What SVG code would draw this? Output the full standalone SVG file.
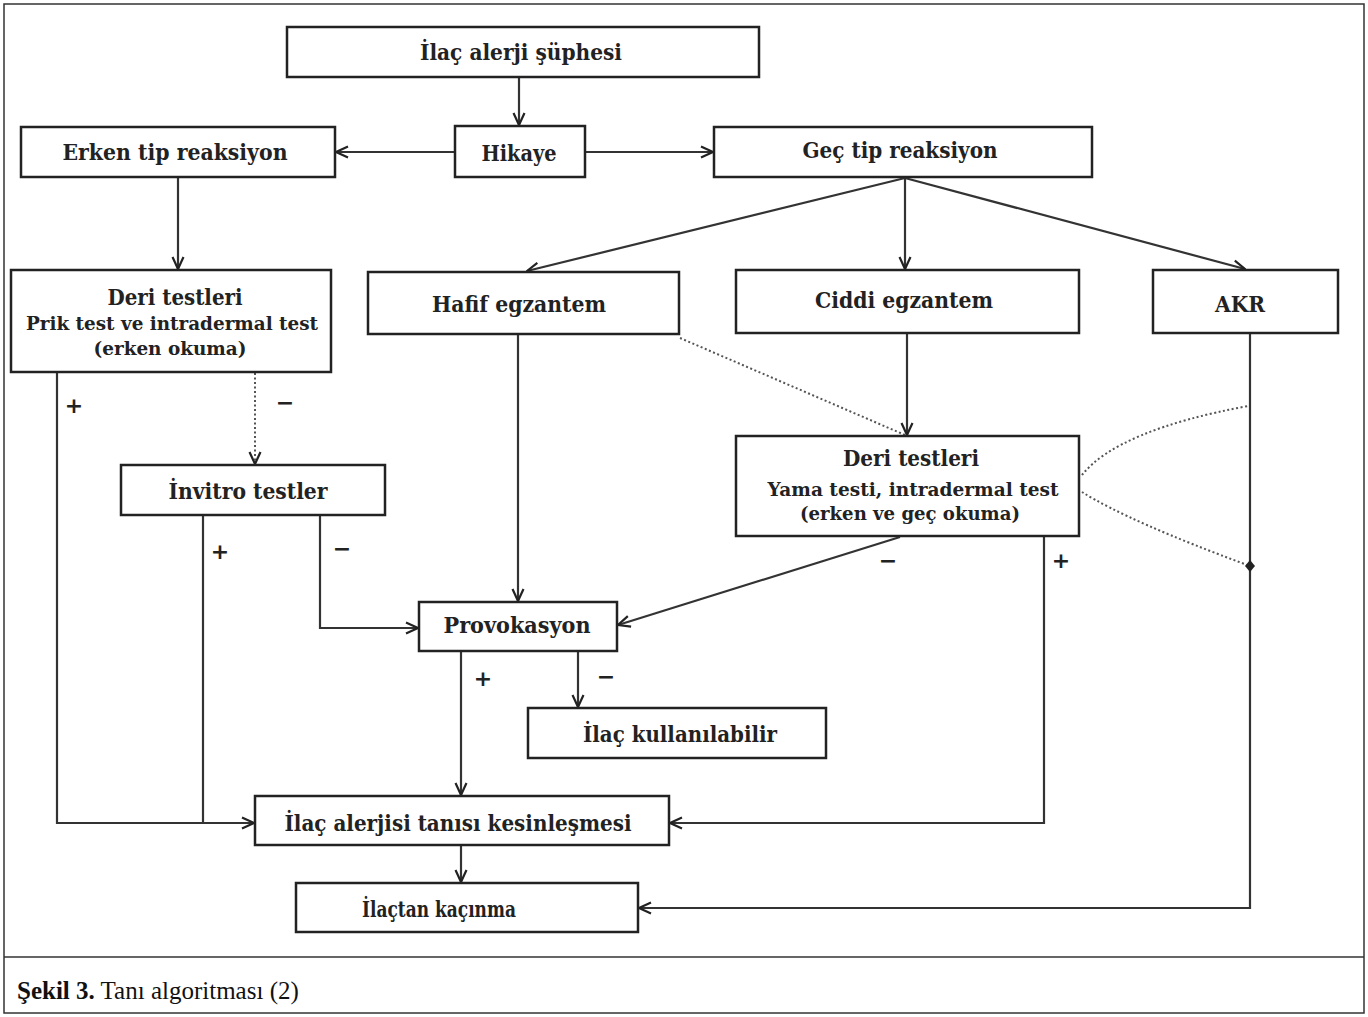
<svg xmlns="http://www.w3.org/2000/svg" width="1368" height="1017" viewBox="0 0 1368 1017">
<defs>
<marker id="arr" viewBox="0 0 14 14" refX="13" refY="7" markerWidth="14" markerHeight="14" markerUnits="userSpaceOnUse" orient="auto">
<path d="M1,1.5 L13,7 L1,12.5" fill="none" stroke="#222" stroke-width="2.2"/>
</marker>
<style>
.box{fill:#fff;stroke:#222;stroke-width:2.5}
.t{font-family:"DejaVu Serif","Liberation Serif",serif;font-weight:bold;font-size:23px;fill:#222;text-anchor:middle}
.s{font-size:19px}
.ln{fill:none;stroke:#333;stroke-width:2.2}
.dot{fill:none;stroke:#555;stroke-width:2;stroke-dasharray:2 2.5}
.pm{font-family:"DejaVu Sans","Liberation Sans",sans-serif;font-weight:bold;font-size:22px;fill:#222;text-anchor:middle}
.cap{font-family:"Liberation Serif",serif;font-size:25px;fill:#111}
</style>
</defs>
<rect x="0" y="0" width="1368" height="1017" fill="#fff"/>
<rect x="4" y="4" width="1360" height="1009" fill="none" stroke="#333" stroke-width="1.5"/>
<line x1="4" y1="957" x2="1364" y2="957" stroke="#333" stroke-width="1.5"/>
<text class="cap" x="17" y="999"><tspan font-weight="bold">Şekil 3.</tspan> Tanı algoritması (2)</text>

<g id="connectors">
<line class="ln" x1="519" y1="77" x2="519" y2="125" marker-end="url(#arr)"/>
<line class="ln" x1="455" y1="152" x2="336" y2="152" marker-end="url(#arr)"/>
<line class="ln" x1="585" y1="152" x2="713" y2="152" marker-end="url(#arr)"/>
<line class="ln" x1="178" y1="177" x2="178" y2="269" marker-end="url(#arr)"/>
<line class="ln" x1="905" y1="178" x2="527" y2="271" marker-end="url(#arr)"/>
<line class="ln" x1="905" y1="178" x2="905" y2="269" marker-end="url(#arr)"/>
<line class="ln" x1="905" y1="178" x2="1245" y2="269" marker-end="url(#arr)"/>
<polyline class="ln" points="57,372 57,823 254,823" marker-end="url(#arr)"/>
<line class="dot" x1="255" y1="373" x2="255" y2="464" marker-end="url(#arr)"/>
<line class="ln" x1="203" y1="515" x2="203" y2="823"/>
<polyline class="ln" points="320,515 320,628 418,628" marker-end="url(#arr)"/>
<line class="ln" x1="518" y1="334" x2="518" y2="601" marker-end="url(#arr)"/>
<line class="dot" x1="680" y1="338" x2="905" y2="435"/>
<line class="ln" x1="907" y1="333" x2="907" y2="435" marker-end="url(#arr)"/>
<line class="ln" x1="900" y1="537" x2="618" y2="625" marker-end="url(#arr)"/>
<polyline class="ln" points="1044,536 1044,823 670,823" marker-end="url(#arr)"/>
<polyline class="ln" points="1250,333 1250,908 639,908" marker-end="url(#arr)"/>
<path class="dot" d="M1082,475 Q1118,430 1248,406"/>
<path class="dot" d="M1082,492 Q1130,522 1250,566"/>
<path d="M1250,560 L1255,566 L1250,572 L1245,566 Z" fill="#222"/>
<line class="ln" x1="461" y1="651" x2="461" y2="795" marker-end="url(#arr)"/>
<line class="ln" x1="578" y1="651" x2="578" y2="707" marker-end="url(#arr)"/>
<line class="ln" x1="461" y1="845" x2="461" y2="882" marker-end="url(#arr)"/>
<text class="pm" x="74" y="413">+</text>
<text class="pm" x="285" y="410">−</text>
<text class="pm" x="220" y="559">+</text>
<text class="pm" x="342" y="556">−</text>
<text class="pm" x="888" y="568">−</text>
<text class="pm" x="1061" y="568">+</text>
<text class="pm" x="483" y="686">+</text>
<text class="pm" x="606" y="684">−</text>
</g>

<g id="n-suphe">
<rect class="box" x="287" y="27" width="472" height="50"/>
<text class="t" x="521" y="60" textLength="202" lengthAdjust="spacingAndGlyphs">İlaç alerji şüphesi</text>
</g>
<g id="n-hikaye">
<rect class="box" x="455" y="126" width="130" height="51"/>
<text class="t" x="519" y="161" textLength="75" lengthAdjust="spacingAndGlyphs">Hikaye</text>
</g>
<g id="n-erken">
<rect class="box" x="21" y="127" width="314" height="50"/>
<text class="t" x="175" y="160" textLength="225" lengthAdjust="spacingAndGlyphs">Erken tip reaksiyon</text>
</g>
<g id="n-gec">
<rect class="box" x="714" y="127" width="378" height="50"/>
<text class="t" x="900" y="158" textLength="195" lengthAdjust="spacingAndGlyphs">Geç tip reaksiyon</text>
</g>
<g id="n-deri1">
<rect class="box" x="11" y="270" width="320" height="102"/>
<text class="t" x="175" y="305" textLength="135" lengthAdjust="spacingAndGlyphs">Deri testleri</text>
<text class="t s" x="172" y="330" textLength="292" lengthAdjust="spacingAndGlyphs">Prik test ve intradermal test</text>
<text class="t s" x="170" y="355" textLength="153" lengthAdjust="spacingAndGlyphs">(erken okuma)</text>
</g>
<g id="n-hafif">
<rect class="box" x="368" y="272" width="311" height="62"/>
<text class="t" x="519" y="312" textLength="174" lengthAdjust="spacingAndGlyphs">Hafif egzantem</text>
</g>
<g id="n-ciddi">
<rect class="box" x="736" y="270" width="343" height="63"/>
<text class="t" x="904" y="308" textLength="178" lengthAdjust="spacingAndGlyphs">Ciddi egzantem</text>
</g>
<g id="n-akr">
<rect class="box" x="1153" y="270" width="185" height="63"/>
<text class="t" x="1240" y="312" textLength="50" lengthAdjust="spacingAndGlyphs">AKR</text>
</g>
<g id="n-invitro">
<rect class="box" x="121" y="465" width="264" height="50"/>
<text class="t" x="248" y="499" textLength="159" lengthAdjust="spacingAndGlyphs">İnvitro testler</text>
</g>
<g id="n-deri2">
<rect class="box" x="736" y="436" width="343" height="100"/>
<text class="t" x="911" y="466" textLength="136" lengthAdjust="spacingAndGlyphs">Deri testleri</text>
<text class="t s" x="913" y="496" textLength="291" lengthAdjust="spacingAndGlyphs">Yama  testi, intradermal test</text>
<text class="t s" x="910" y="520" textLength="220" lengthAdjust="spacingAndGlyphs">(erken ve geç okuma)</text>
</g>
<g id="n-provokasyon">
<rect class="box" x="419" y="602" width="198" height="49"/>
<text class="t" x="517" y="633" textLength="147" lengthAdjust="spacingAndGlyphs">Provokasyon</text>
</g>
<g id="n-kullanilabilir">
<rect class="box" x="528" y="708" width="298" height="50"/>
<text class="t" x="680" y="742" textLength="194" lengthAdjust="spacingAndGlyphs">İlaç kullanılabilir</text>
</g>
<g id="n-tani">
<rect class="box" x="255" y="796" width="414" height="49"/>
<text class="t" x="458" y="831" textLength="347" lengthAdjust="spacingAndGlyphs">İlaç alerjisi tanısı kesinleşmesi</text>
</g>
<g id="n-kacinma">
<rect class="box" x="296" y="883" width="342" height="49"/>
<text class="t" x="439" y="917" textLength="154" lengthAdjust="spacingAndGlyphs">İlaçtan kaçınma</text>
</g>
</svg>
